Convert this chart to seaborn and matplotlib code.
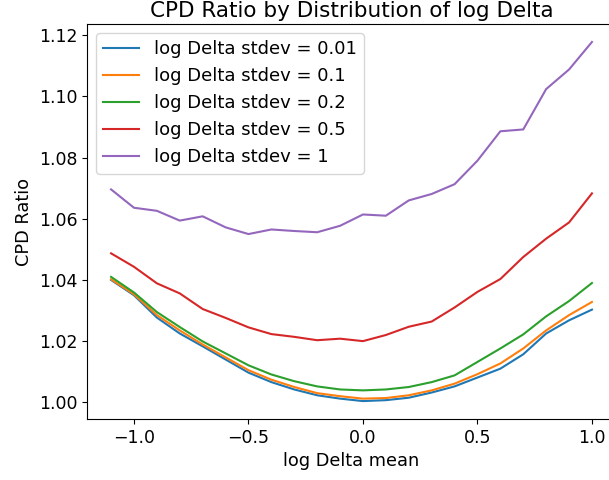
import numpy as np
import pandas as pd
import matplotlib
matplotlib.use("Agg")
import matplotlib.pyplot as plt
import seaborn as sns

# log Delta mean values (x axis)
log_delta_mean = [-1.1, -1.0, -0.9, -0.8, -0.7, -0.6, -0.5, -0.4, -0.3, -0.2, -0.1,
                  0.0, 0.1, 0.2, 0.3, 0.4, 0.5, 0.6, 0.7, 0.8, 0.9, 1.0]

sd_001 = [1.0400, 1.0350, 1.0277, 1.0225, 1.0183, 1.0140, 1.0097, 1.0066, 1.0042, 1.0023, 1.0012,
          1.0004, 1.0007, 1.0015, 1.0032, 1.0052, 1.0081, 1.0110, 1.0157, 1.0225, 1.0268, 1.0303]
sd_01 = [1.0402, 1.0353, 1.0285, 1.0235, 1.0189, 1.0147, 1.0105, 1.0074, 1.0050, 1.0030, 1.0020,
         1.0012, 1.0014, 1.0023, 1.0039, 1.0061, 1.0092, 1.0127, 1.0176, 1.0235, 1.0285, 1.0328]
sd_02 = [1.0410, 1.0359, 1.0295, 1.0246, 1.0199, 1.0160, 1.0121, 1.0091, 1.0069, 1.0052, 1.0042,
         1.0039, 1.0042, 1.0050, 1.0066, 1.0088, 1.0132, 1.0176, 1.0222, 1.0281, 1.0331, 1.0390]
sd_05 = [1.0487, 1.0443, 1.0389, 1.0356, 1.0305, 1.0276, 1.0245, 1.0223, 1.0214, 1.0203, 1.0208,
         1.0200, 1.0220, 1.0247, 1.0264, 1.0310, 1.0361, 1.0403, 1.0475, 1.0535, 1.0588, 1.0683]
sd_1 = [1.0696, 1.0636, 1.0626, 1.0594, 1.0608, 1.0572, 1.0550, 1.0565, 1.0560, 1.0556, 1.0577,
        1.0614, 1.0610, 1.0660, 1.0681, 1.0713, 1.0790, 1.0886, 1.0892, 1.1024, 1.1088, 1.1178]

labels = ["log Delta stdev = 0.01", "log Delta stdev = 0.1", "log Delta stdev = 0.2",
          "log Delta stdev = 0.5", "log Delta stdev = 1"]
series = [sd_001, sd_01, sd_02, sd_05, sd_1]
colors = ["#1f77b4", "#ff7f0e", "#2ca02c", "#d62728", "#9467bd"]

fig = plt.figure(figsize=(6.09, 4.8), dpi=100)
ax = fig.add_axes([0.1429, 0.127, 0.8686, 0.823])

for lab, ys, c in zip(labels, series, colors):
    sns.lineplot(x=log_delta_mean, y=ys, label=lab, color=c, ax=ax, linewidth=1.5)

ax.set_title("CPD Ratio by Distribution of log Delta", fontsize=15.5, pad=5)
ax.set_xlabel("log Delta mean", fontsize=12.8)
ax.set_ylabel("CPD Ratio", fontsize=12.8)
ax.tick_params(labelsize=12.5)
ax.set_yticks([1.00, 1.02, 1.04, 1.06, 1.08, 1.10, 1.12])
ax.legend(loc="upper left", fontsize=13)

fig.savefig("out.png", dpi=100)
